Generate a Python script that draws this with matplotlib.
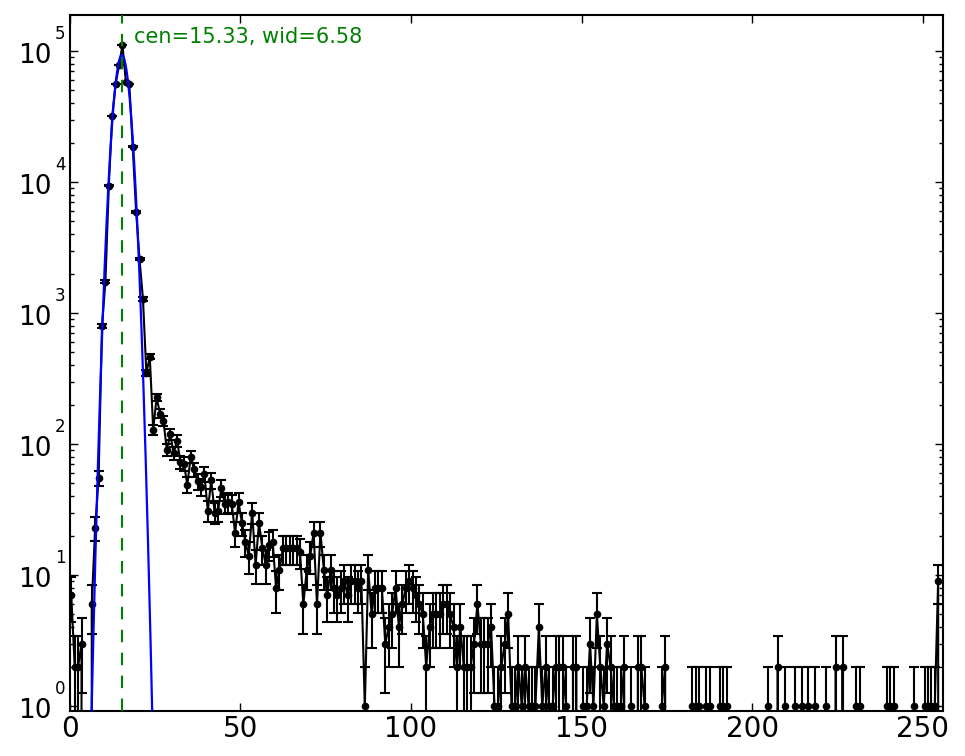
import numpy as np
import matplotlib
matplotlib.use('Agg')
import matplotlib.pyplot as plt
from matplotlib.transforms import ScaledTranslation
from matplotlib.ticker import NullLocator, LogLocator, NullFormatter

# ---- data: histogram counts per unit-width bin (0..256) ----
bin_edges = np.arange(257)
counts = [
    7, 2, 2, 3, 0, 0, 6, 23, 55, 800,                              # 0-9
    1730, 9400, 32000, 56000, 78000, 111000, 58000, 56000, 18600, 5900,  # 10-19
    2570, 1280, 347, 464, 129, 227, 171, 150, 90, 119,             # 20-29
    85, 106, 73, 71, 49, 80, 64, 52, 47, 59,                       # 30-39
    31, 53, 30, 31, 46, 35, 36, 35, 21, 36,                        # 40-49
    25, 18, 14, 30, 12, 25, 16, 12, 17, 18,                        # 50-59
    8, 11, 16, 16, 16, 16, 16, 15, 6, 11,                          # 60-69
    14, 21, 6, 21, 11, 7, 11, 8, 7, 8,                             # 70-79
    9, 7, 9, 9, 8, 9, 1, 11, 5, 8,                                 # 80-89
    8, 8, 3, 4, 5, 8, 4, 6, 8, 9,                                  # 90-99
    8, 7, 6, 5, 2, 4, 5, 5, 5, 6,                                  # 100-109
    6, 5, 4, 2, 4, 2, 2, 2, 3, 6,                                  # 110-119
    3, 3, 3, 4, 1, 1, 2, 3, 5, 1,                                  # 120-129
    1, 2, 1, 2, 1, 1, 1, 4, 1, 2,                                  # 130-139
    1, 1, 2, 2, 2, 1, 0, 2, 2, 0,                                  # 140-149
    1, 1, 3, 1, 5, 2, 1, 3, 2, 1,                                  # 150-159
    1, 1, 2, 0, 1, 0, 2, 2, 1, 0,                                  # 160-169
    0, 0, 0, 1, 2, 0, 0, 0, 0, 0,                                  # 170-179
    0, 0, 1, 1, 1, 0, 1, 1, 0, 0,                                  # 180-189
    1, 1, 1, 0, 0, 0, 0, 0, 0, 0,                                  # 190-199
    0, 0, 0, 0, 1, 0, 0, 2, 0, 1,                                  # 200-209
    0, 0, 1, 0, 1, 0, 1, 0, 1, 0,                                  # 210-219
    0, 1, 0, 0, 2, 0, 2, 0, 0, 0,                                  # 220-229
    1, 1, 0, 0, 0, 0, 0, 0, 0, 1,                                  # 230-239
    1, 1, 0, 0, 0, 0, 0, 1, 0, 0,                                  # 240-249
    1, 1, 1, 1, 9, 0,                                              # 250-255
]

# ---- gaussian fit parameters ----
fit_cen = 15.33
fit_wid = 6.58
fit_amp = 9.3e4
fit_sigma = 1.85

x_ticks = [0, 50, 100, 150, 200, 250]
y_decades = [0, 1, 2, 3, 4, 5]

counts_arr = np.array(counts, dtype=float)
centers = 0.5 * (bin_edges[:-1] + bin_edges[1:])
yerr = np.sqrt(counts_arr)

fig = plt.figure(figsize=(9.65, 7.56), dpi=100)
fig.patch.set_facecolor('white')
ax = fig.add_axes([0.0721, 0.0599, 0.9054, 0.9209])
ax.set_yscale('log', nonpositive='clip')

ax.errorbar(centers, counts_arr, yerr=yerr, fmt='o-', color='k', ms=4.5,
            mec='k', lw=1.5, elinewidth=1.5, capsize=3.6, capthick=1.5, zorder=3)

xf = np.linspace(bin_edges[0], bin_edges[-1], 5121)
yf = fit_amp * np.exp(-0.5 * ((xf - fit_cen) / fit_sigma) ** 2)
ax.plot(xf, yf, color='b', lw=1.6, zorder=4)

ax.axvline(fit_cen, color='g', lw=1.5, ls=(0, (6, 5)), zorder=5)
ax.text(18.8, 1.28e5, 'cen=%.2f, wid=%.2f' % (fit_cen, fit_wid), color='g',
        fontsize=15, ha='left', va='center')

ax.set_xlim(0, 256)
ax.set_ylim(0.921, 1.9e5)

ax.set_xticks(x_ticks)
ax.set_xticklabels([str(t) for t in x_ticks], fontsize=20)
ax.xaxis.set_minor_locator(NullLocator())
ax.set_yticks([10.0 ** e for e in y_decades])
ax.yaxis.set_minor_locator(LogLocator(base=10, subs=np.arange(2, 10), numticks=30))
ax.yaxis.set_minor_formatter(NullFormatter())
ax.tick_params(axis='both', which='major', direction='in', length=5.8, width=1.0,
               top=True, right=True, labelleft=False)
ax.tick_params(axis='both', which='minor', direction='in', length=2.9, width=1.0,
               top=True, right=True, labelleft=False)
ax.tick_params(axis='x', pad=3)

for sp in ax.spines.values():
    sp.set_linewidth(1.5)

# y tick labels in the old "10 + raised exponent" look
ytr = ax.get_yaxis_transform()
for e in y_decades:
    ax.text(0, 10.0 ** e, '10', fontsize=19, ha='right', va='center', clip_on=False,
            transform=ytr + ScaledTranslation(-0.176, -0.045, fig.dpi_scale_trans))
    ax.text(0, 10.0 ** e, str(e), fontsize=12, ha='left', va='center', clip_on=False,
            transform=ytr + ScaledTranslation(-0.146, 0.168, fig.dpi_scale_trans))

fig.savefig('out.png', dpi=100, facecolor='white')
